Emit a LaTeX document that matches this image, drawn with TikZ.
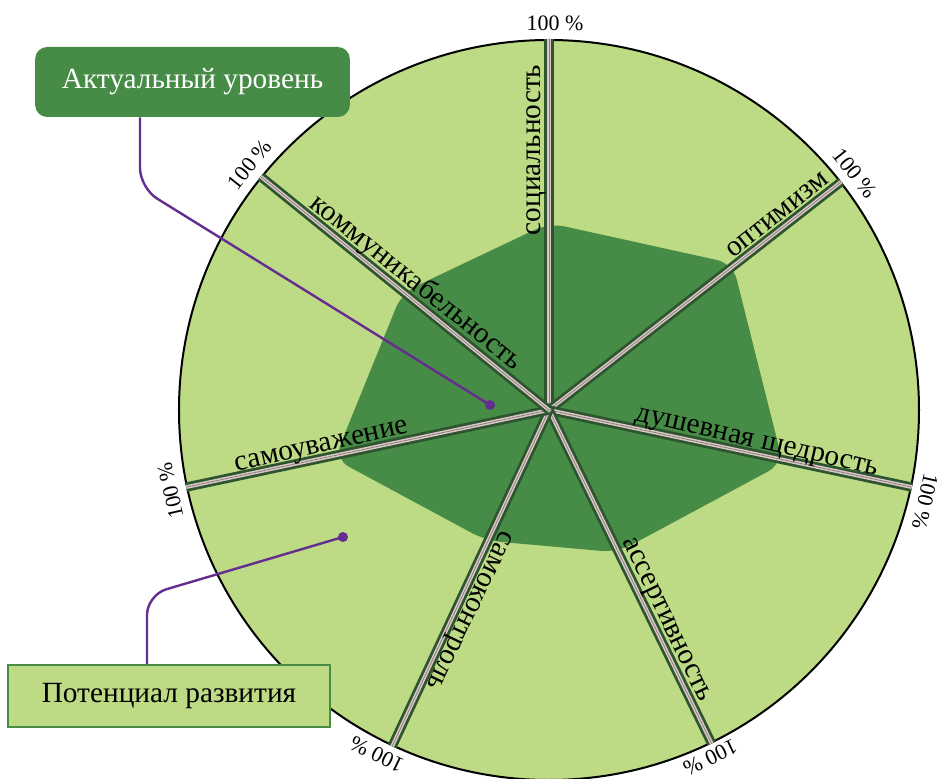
\documentclass[tikz,border=0pt]{standalone}
\usepackage{fontspec}
\setmainfont{Liberation Serif}
\usetikzlibrary{positioning, calc}
\definecolor{potGreen}{HTML}{BDDA84}
\definecolor{actGreen}{HTML}{468B46}
\definecolor{boxLine}{HTML}{4A8C45}
\definecolor{spokeDark}{HTML}{2C5530}
\definecolor{spokeLight}{HTML}{DCC9C6}
\definecolor{spokeGrey}{HTML}{8C8080}
\definecolor{callPurple}{HTML}{652D90}
\tikzset{
  disc/.style={circle, draw=black, line width=1.5pt, fill=potGreen,
               minimum size=555pt, inner sep=0pt},
  actual/.style={fill=actGreen, rounded corners=12pt},
  spoke/.style={draw=spokeGrey, line width=0.6pt,
                preaction={draw=spokeDark, line width=7pt},
                preaction={draw=spokeLight, line width=2.8pt}},
  axislabel/.style={font=\fontsize{22}{26}\selectfont, anchor=south, inner sep=2pt},
  pct/.style={font=\fontsize{16.5}{20}\selectfont, anchor=south, inner sep=1pt},
  actbox/.style={rectangle, rounded corners=9pt, fill=actGreen, text=white,
                 font=\fontsize{22}{26}\selectfont,
                 minimum width=236pt, minimum height=52.5pt},
  potbox/.style={rectangle, draw=boxLine, line width=1.5pt, fill=potGreen,
                 font=\fontsize{22}{26}\selectfont,
                 minimum width=241pt, minimum height=46.5pt},
  callout/.style={draw=callPurple, line width=1.8pt, rounded corners=15pt},
  dot/.style={circle, fill=callPurple, inner sep=0pt, minimum size=7.5pt},
}

\begin{document}
\begin{tikzpicture}[x=0.75pt, y=0.75pt]
\useasboundingbox (-549,-368) rectangle (393,410);

% potential (full circle)
\node[disc] (disc) at (0,0) {};
\coordinate (ctr) at (0,0);

% actual level
\fill[actual] (90:187) -- (38.571:235) -- (-12.857:240) -- (-64.286:158)
  -- (-115.714:145) -- (192.857:220) -- (141.429:188) -- cycle;

% --- spokes ---
\draw[spoke] (ctr) -- (disc.90);
\draw[spoke] (ctr) -- (disc.38.571);
\draw[spoke] (ctr) -- (disc.-12.857);
\draw[spoke] (ctr) -- (disc.-64.286);
\draw[spoke] (ctr) -- (disc.-115.714);
\draw[spoke] (ctr) -- (disc.192.857);
\draw[spoke] (ctr) -- (disc.141.429);

% --- axis names ---
\node[axislabel, rotate=90]       (soc)  at (90:260)       {социальность};
\node[axislabel, rotate=38.571]   (opt)  at (38.571:300)   {оптимизм};
\node[axislabel, rotate=-12.857]  (gen)  at (-12.857:210)  {душевная щедрость};
\node[axislabel, rotate=-64.286]  (ass)  at (-64.286:240)  {ассертивность};
\node[axislabel, rotate=-115.714] (self) at (-115.714:215) {самоконтроль};
\node[axislabel, rotate=12.857]   (resp) at (192.857:230)  {самоуважение};
\node[axislabel, rotate=-38.571]  (com)  at (141.429:183)  {коммуникабельность};

% --- 100 % marks ---
\node[pct, rotate=0]        (p1) at (89.1:378)     {100 \%};
\node[pct, rotate=-51.429]  (p2) at (37.7:378)     {100 \%};
\node[pct, rotate=-102.857] (p3) at (-13.7:378)    {100 \%};
\node[pct, rotate=-154.286] (p4) at (-65.1:374)    {100 \%};
\node[pct, rotate=154.286]  (p5) at (-116.6:376)   {100 \%};
\node[pct, rotate=102.857]  (p6) at (192.0:378)    {100 \%};
\node[pct, rotate=51.429]   (p7) at (140.6:378)    {100 \%};

% --- callouts ---
\node[actbox] (akt) at (-356.5,328) {Актуальный уровень};
\node[potbox] (pot) at (-380,-286)  {Потенциал развития};

\node[dot] (actdot) at (-59,5) {};
\node[dot] (potdot) at (-206,-127) {};
\coordinate (actbend) at (-409,222);
\coordinate (potbend) at (-402,-185);

\draw[callout] (akt.south -| actbend) -- (actbend) -- (actdot.center);
\draw[callout] (pot.north -| potbend) -- (potbend) -- (potdot.center);

\end{tikzpicture}
\end{document}
